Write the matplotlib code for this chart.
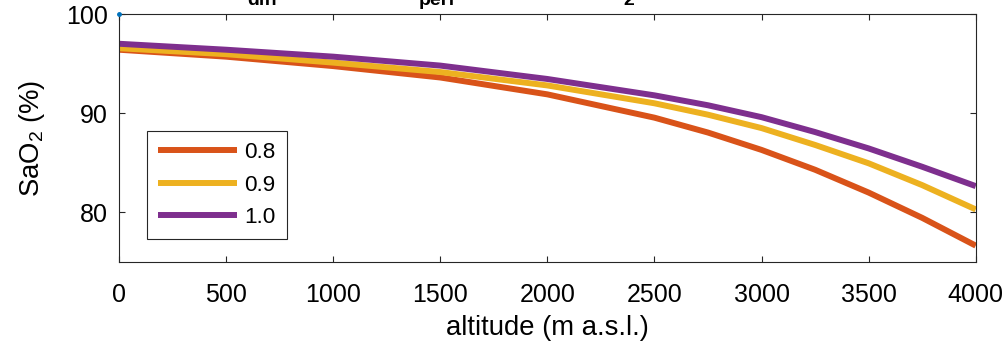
import matplotlib
matplotlib.use("Agg")
import matplotlib.pyplot as plt

# altitude (m a.s.l.) and SaO2 (%)
altitude = [0, 500, 1000, 1500, 2000, 2500, 2750, 3000, 3250, 3500, 3750, 4000]
sao2_08 = [96.4, 95.7, 94.75, 93.6, 91.9, 89.55, 88.05, 86.3, 84.3, 82.0, 79.45, 76.65]
sao2_09 = [96.55, 95.95, 95.1, 94.15, 92.8, 91.0, 89.85, 88.5, 86.8, 84.95, 82.75, 80.3]
sao2_10 = [97.0, 96.4, 95.7, 94.8, 93.45, 91.8, 90.8, 89.6, 88.1, 86.45, 84.6, 82.65]
legend_labels = ["0.8", "0.9", "1.0"]
colors = ["#D95319", "#EDB120", "#7E2F8E"]
ref_point = ([0], [100])
title_subscripts = ["diff", "perf", "2"]

plt.rcParams["font.family"] = ["Liberation Sans", "DejaVu Sans"]
plt.rcParams["mathtext.fontset"] = "custom"
plt.rcParams["mathtext.rm"] = "Liberation Sans"
plt.rcParams["mathtext.it"] = "Liberation Sans:italic"
plt.rcParams["mathtext.bf"] = "Liberation Sans:bold"

axcol = "#262626"
fig = plt.figure(figsize=(10.08, 3.5), dpi=100)
ax = fig.add_axes([0.118, 0.2514, 0.850, 0.7086])

ax.plot(ref_point[0], ref_point[1], "o", color="#0072BD", markersize=2.5, clip_on=False, zorder=5)
for y, c, lab in zip([sao2_08, sao2_09, sao2_10], colors, legend_labels):
    ax.plot(altitude, y, color=c, linewidth=4.3, label=lab, solid_capstyle="butt")

ax.set_xlim(0, 4000)
ax.set_ylim(75, 100)
ax.set_xticks(range(0, 4001, 500))
ax.set_yticks([80, 90, 100])
ax.tick_params(direction="in", length=4, width=0.8, colors=axcol, labelsize=18,
               top=True, right=True)
ax.tick_params(axis="x", labelcolor="#000000", pad=15)
ax.tick_params(axis="y", labelcolor="#000000", pad=8)
for s in ax.spines.values():
    s.set_color(axcol)
    s.set_linewidth(0.8)

ax.set_xlabel("altitude (m a.s.l.)", fontsize=19.8, labelpad=6)
ax.set_ylabel(r"SaO$_2$ (%)", fontsize=19.8, labelpad=14)

leg = ax.legend(loc="upper left", bbox_to_anchor=(0.033, 0.528), fontsize=16.2,
                handlelength=3.5, handletextpad=0.3, labelspacing=0.5,
                borderpad=0.5, borderaxespad=0, fancybox=False, framealpha=1)
leg.get_frame().set_edgecolor(axcol)
leg.get_frame().set_linewidth(0.8)

# title sits mostly above the canvas; only its subscripts show
for txt, xc in zip(title_subscripts, [263, 437, 629]):
    fig.text(xc / 1008, 1 - 5 / 350, txt, ha="center", va="baseline",
             fontsize=14, fontweight="bold")

fig.savefig("out.png", dpi=100)
